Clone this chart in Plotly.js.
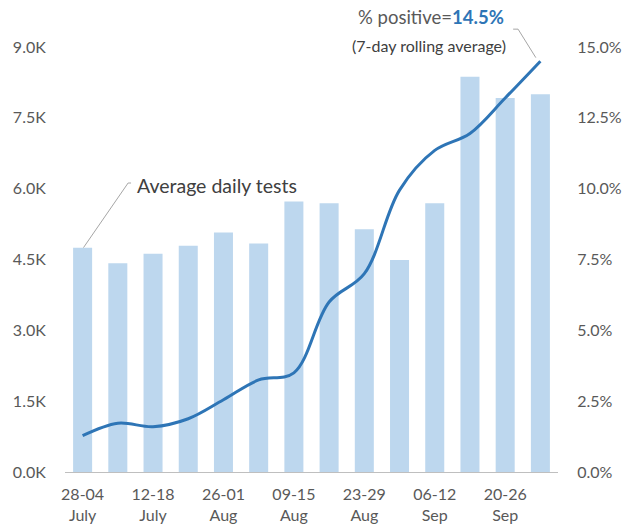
<!DOCTYPE html>
<html>
<head>
<meta charset="utf-8">
<script src="https://cdn.plot.ly/plotly-3.0.1.min.js"></script>
<style>html,body{margin:0;padding:0;background:#fff}#chart{width:638px;height:529px}</style>
</head>
<body>
<div id="chart"></div>
<script>
const weeks = ["28-04 July","05-11 July","12-18 July","19-25 July","26-01 Aug","02-08 Aug","09-15 Aug","16-22 Aug","23-29 Aug","30-05 Sep","06-12 Sep","13-19 Sep","20-26 Sep","27-03 Oct"];
const dailyTests = [4750, 4420, 4620, 4790, 5070, 4840, 5730, 5690, 5140, 4490, 5690, 8370, 7920, 8000];
const pctPositive = [1.28, 1.72, 1.60, 1.88, 2.55, 3.25, 3.50, 6.0, 7.0, 9.95, 11.35, 11.95, 13.2, 14.5];
const xTickVals = ["28-04 July","12-18 July","26-01 Aug","09-15 Aug","23-29 Aug","06-12 Sep","20-26 Sep"];
const xTickText = ["28-04<br>July","12-18<br>July","26-01<br>Aug","09-15<br>Aug","23-29<br>Aug","06-12<br>Sep","20-26<br>Sep"];
const yTickVals = [0, 1500, 3000, 4500, 6000, 7500, 9000];
const yTickText = ["0.0K","1.5K","3.0K","4.5K","6.0K","7.5K","9.0K"];
const y2TickVals = [0, 2.5, 5, 7.5, 10, 12.5, 15];
const y2TickText = ["0.0%","2.5%","5.0%","7.5%","10.0%","12.5%","15.0%"];

const font = "Lato, 'Open Sans', sans-serif";
const data = [
  {type:"bar", x: weeks, y: dailyTests, marker:{color:"#BDD7EE"}, hoverinfo:"y"},
  {type:"scatter", mode:"lines", x: weeks, y: pctPositive, yaxis:"y2",
   line:{color:"#2E75B6", width:3, shape:"spline", smoothing:1}}
];
const layout = {
  width:638, height:529,
  margin:{l:65, r:80, t:47, b:57},
  paper_bgcolor:"#fff", plot_bgcolor:"#fff",
  showlegend:false,
  bargap:0.46,
  font:{family:font, color:"#595959", size:16},
  xaxis:{type:"category", categoryorder:"array", categoryarray: weeks,
    tickvals: xTickVals, ticktext: xTickText, showgrid:false, zeroline:false,
    showline:true, linecolor:"#BFBFBF", linewidth:1, ticks:"outside", ticklen:8, tickcolor:"rgba(0,0,0,0)",
    tickfont:{size:16, color:"#595959"}},
  yaxis:{range:[0,9000], tickvals:yTickVals, ticktext:yTickText, showgrid:false, zeroline:false,
    showline:false, ticks:"outside", ticklen:15, tickcolor:"rgba(0,0,0,0)", tickfont:{size:16, color:"#595959"}},
  yaxis2:{range:[0,15], overlaying:"y", side:"right", tickvals:y2TickVals, ticktext:y2TickText,
    showgrid:false, zeroline:false, showline:false, ticks:"outside", ticklen:15, tickcolor:"rgba(0,0,0,0)",
    tickfont:{size:16, color:"#595959"}},
  shapes:[
    {type:"path", xref:"paper", yref:"paper", path:"M 0.134 0.680 L 0.128 0.680 L 0.0375 0.528",
     line:{color:"#A6A6A6", width:1}},
    {type:"path", xref:"paper", yref:"paper", path:"M 0.909 1.042 L 0.919 1.042 L 0.955 0.975",
     line:{color:"#A6A6A6", width:1}}
  ],
  annotations:[
    {xref:"paper", yref:"paper", x:0.1419, y:0.675, xanchor:"left", yanchor:"middle", showarrow:false,
     text:"Average daily tests", font:{size:19.5, color:"#404040", family:font}},
    {xref:"paper", yref:"paper", x:0.743, y:1.0706, xanchor:"center", yanchor:"middle", showarrow:false,
     text:"% positive=<b><span style='color:#2E75B6'>14.5%</span></b>", font:{size:18.5, color:"#595959", family:font}},
    {xref:"paper", yref:"paper", x:0.739, y:1.0047, xanchor:"center", yanchor:"middle", showarrow:false,
     text:"(7-day rolling average)", font:{size:16, color:"#404040", family:font}}
  ]
};
Plotly.newPlot("chart", data, layout, {displayModeBar:false, staticPlot:true});
</script>
</body>
</html>
